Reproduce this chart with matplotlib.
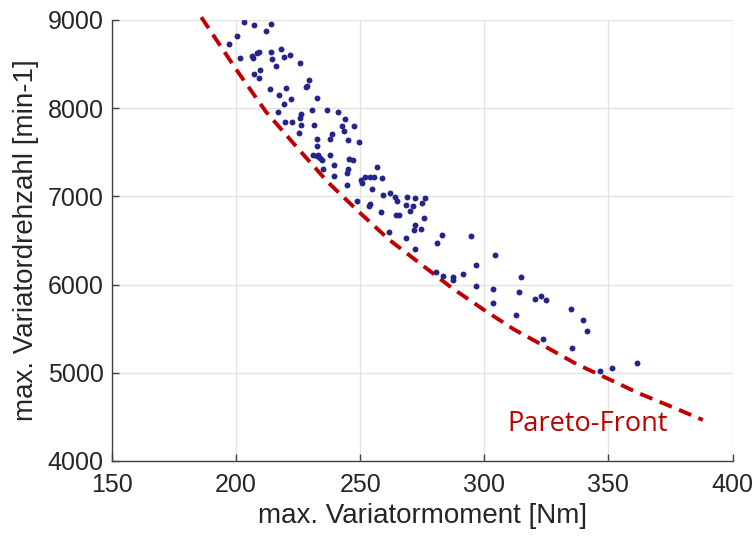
import matplotlib
matplotlib.use("Agg")
import matplotlib.pyplot as plt

# Scatter data: max. Variatormoment [Nm] vs max. Variatordrehzahl [min-1]
moment = [203.2, 207.3, 214.1, 212.0, 200.5, 197.3, 201.5, 206.3, 206.8, 208.5,
          209.1, 214.1, 214.4, 218.3, 219.5, 221.6, 216.1, 225.7, 207.2, 209.5,
          209.3, 213.6, 220.3, 217.5, 222.0, 219.2, 229.5, 228.7, 228.1, 232.5,
          230.8, 216.8, 226.1, 225.9, 226.1, 219.9, 222.5, 225.2, 236.8, 241.2,
          243.9, 242.5, 243.5, 247.6, 231.6, 238.5, 238.0, 232.5, 245.2, 249.6,
          232.8, 231.2, 233.2, 233.9, 232.5, 234.5, 237.9, 239.5, 245.6, 247.2,
          245.2, 256.8, 235.2, 239.6, 244.5, 244.9, 250.3, 251.9, 253.9, 255.5,
          250.8, 258.9, 254.8, 259.2, 262.1, 263.9, 264.9, 248.9, 253.9, 253.5,
          258.3, 264.5, 265.6, 268.8, 272.0, 276.1, 274.8, 268.5, 269.9, 271.2,
          275.6, 271.9, 271.5, 274.5, 261.5, 268.5, 272.0, 282.8, 280.8, 280.7,
          283.2, 287.2, 287.5, 294.5, 304.5, 296.5, 291.6, 296.5, 314.8, 303.6,
          303.6, 313.9, 320.5, 322.9, 324.9, 312.9, 334.9, 339.6, 341.3, 323.5,
          335.2, 346.5, 351.5, 361.6]
drehzahl = [8974, 8943, 8951, 8875, 8822, 8728, 8573, 8592, 8573, 8622,
            8640, 8637, 8561, 8668, 8580, 8607, 8478, 8509, 8384, 8433,
            8339, 8214, 8229, 8153, 8104, 8051, 8320, 8252, 8244, 8112,
            7979, 7960, 7934, 7885, 7809, 7840, 7840, 7722, 7979, 7953,
            7881, 7798, 7741, 7795, 7813, 7707, 7651, 7654, 7639, 7620,
            7571, 7469, 7469, 7439, 7451, 7412, 7469, 7356, 7424, 7412,
            7310, 7330, 7307, 7231, 7262, 7129, 7186, 7216, 7223, 7223,
            7148, 7205, 7084, 7016, 7035, 6989, 6951, 6951, 6913, 6891,
            6826, 6789, 6789, 6996, 6985, 6985, 6921, 6902, 6837, 6894,
            6751, 6675, 6619, 6630, 6600, 6525, 6400, 6562, 6468, 6139,
            6100, 6089, 6052, 6551, 6335, 6222, 6116, 5984, 6089, 5946,
            5794, 5912, 5836, 5870, 5821, 5655, 5723, 5595, 5473, 5383,
            5277, 5020, 5057, 5114]

# Pareto front
pareto_x = [186, 200, 212, 225, 237, 250, 262, 275, 287, 300, 312, 325, 337, 350, 362, 375, 388]
pareto_y = [9030, 8440, 7960, 7540, 7160, 6810, 6500, 6220, 5960, 5710, 5490, 5290, 5100, 4930, 4770, 4620, 4465]

x_ticks = [150, 200, 250, 300, 350, 400]
y_ticks = [4000, 5000, 6000, 7000, 8000, 9000]

plt.rcParams['font.family'] = ['Liberation Sans', 'DejaVu Sans']

fig = plt.figure(figsize=(7.56, 5.36), dpi=100)
ax = fig.add_axes([0.148, 0.140, 0.821, 0.823])

ax.plot(pareto_x, pareto_y, color='#C00000', lw=2.8, dashes=(3.4, 2.0), zorder=3, clip_on=False)
ax.scatter(moment, drehzahl, s=18, color='#24248A', zorder=4, linewidths=0)

ax.set_xlim(150, 400)
ax.set_ylim(4000, 9000)
ax.set_xticks(x_ticks)
ax.set_yticks(y_ticks)
ax.grid(True, color='#E3E3E3', lw=1.0)
ax.set_axisbelow(True)

for s in ['top', 'right']:
    ax.spines[s].set_visible(False)
for s in ['left', 'bottom']:
    ax.spines[s].set_color('#404040')
    ax.spines[s].set_linewidth(1.0)

ax.tick_params(direction='in', length=5, width=1, color='#404040', labelsize=18,
               labelcolor='#262626', pad=6)
ax.tick_params(axis='x', pad=9)

ax.set_xlabel('max. Variatormoment [Nm]', fontsize=20, color='#262626', labelpad=4)
ax.set_ylabel('max. Variatordrehzahl [min-1]', fontsize=20, color='#262626', labelpad=6)

ax.text(150 + (591 - 112) / 2.5, 9000 - (424 - 20) * 11.34, 'Pareto-Front',
        fontsize=19.5, color='#C00000', family=['Open Sans', 'DejaVu Sans'],
        ha='center', va='center')

fig.savefig('out.png', dpi=100)
